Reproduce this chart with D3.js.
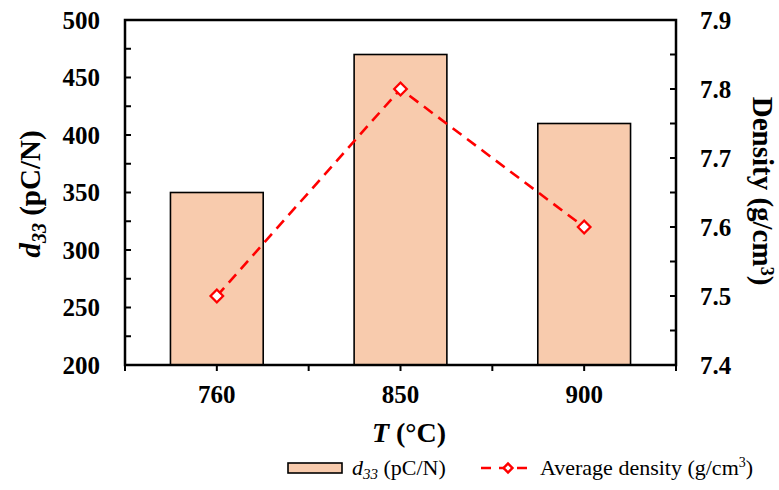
<!DOCTYPE html>
<html>
<head>
<meta charset="utf-8">
<script src="https://cdn.jsdelivr.net/npm/d3@7/dist/d3.min.js"></script>
<style>
  body { margin: 0; background: #fff; }
  svg { display: block; }
</style>
</head>
<body>
<svg id="chart" width="779" height="490"></svg>
<script>
// Sintering temperature (°C)
const categories = ["760", "850", "900"];
// Piezoelectric coefficient d33 (pC/N)
const d33Values = [350, 470, 410];
// Average density (g/cm³)
const densityValues = [7.5, 7.8, 7.6];
// Axis ticks
const leftTicks = [200, 250, 300, 350, 400, 450, 500];
const rightTicks = [7.4, 7.5, 7.6, 7.7, 7.8, 7.9];

const FONT = '"Liberation Serif"';
const svg = d3.select("#chart");
const m = { left: 125, right: 676, top: 20, bottom: 365 };

const x = d3.scaleBand().domain(categories).range([m.left, m.right]).paddingInner(0).paddingOuter(0);
const yL = d3.scaleLinear().domain([200, 500]).range([m.bottom, m.top]);
const yR = d3.scaleLinear().domain([7.4, 7.9]).range([m.bottom, m.top]);

const barW = x.bandwidth() * 0.505;
const barColor = "#F8CBAD";
const red = "#FF0000";

// Bars
svg.append("g").selectAll("rect").data(categories).join("rect")
  .attr("x", (d) => x(d) + x.bandwidth() / 2 - barW / 2)
  .attr("y", (d, i) => yL(d33Values[i]))
  .attr("width", barW)
  .attr("height", (d, i) => yL(200) - yL(d33Values[i]))
  .attr("fill", barColor)
  .attr("stroke", "#000")
  .attr("stroke-width", 1.6);

const styleTicks = (g) => {
  g.select(".domain").remove();
  g.attr("font-family", null).attr("font-size", null);
  g.selectAll("text").style("font-size", "25px").style("font-weight", "bold").attr("fill", "#000");
};

// Left axis (ticks inside the plot)
svg.append("g").attr("transform", `translate(${m.left},0)`)
  .call(d3.axisLeft(yL).tickValues(leftTicks).tickSize(0).tickPadding(25).tickFormat(d3.format("d")))
  .call(styleTicks);
const leftMinor = d3.range(200, 501, 25);
svg.append("g").selectAll("line").data(leftMinor).join("line")
  .attr("x1", m.left).attr("x2", m.left + 6)
  .attr("y1", (d) => yL(d)).attr("y2", (d) => yL(d))
  .attr("stroke", "#000").attr("stroke-width", 2);

// Right axis
svg.append("g").attr("transform", `translate(${m.right},0)`)
  .call(d3.axisRight(yR).tickValues(rightTicks).tickSize(0).tickPadding(24).tickFormat(d3.format(".1f")))
  .call(styleTicks);
const rightMinor = d3.range(0, 11).map((i) => 7.4 + i * 0.05);
svg.append("g").selectAll("line").data(rightMinor).join("line")
  .attr("x1", m.right).attr("x2", m.right - 6)
  .attr("y1", (d) => yR(d)).attr("y2", (d) => yR(d))
  .attr("stroke", "#000").attr("stroke-width", 2);

// Bottom axis: ticks at category centres and boundaries, pointing down
svg.append("g").attr("transform", `translate(0,${m.bottom})`)
  .call(d3.axisBottom(x).tickSize(0).tickPadding(20))
  .call(styleTicks);
const xTickPos = [m.left];
categories.forEach((c) => { xTickPos.push(x(c) + x.bandwidth() / 2); xTickPos.push(x(c) + x.bandwidth()); });
svg.append("g").selectAll("line").data(xTickPos).join("line")
  .attr("x1", (d) => d).attr("x2", (d) => d)
  .attr("y1", m.bottom).attr("y2", m.bottom + 6)
  .attr("stroke", "#000").attr("stroke-width", 2);

// Frame
svg.append("rect").attr("x", m.left).attr("y", m.top)
  .attr("width", m.right - m.left).attr("height", m.bottom - m.top)
  .attr("fill", "none").attr("stroke", "#000").attr("stroke-width", 2.5);

// Density line
const cx = (d) => x(d) + x.bandwidth() / 2;
const line = d3.line().x((d, i) => cx(categories[i])).y((d) => yR(d));
svg.append("path").datum(densityValues).attr("d", line)
  .attr("fill", "none").attr("stroke", red).attr("stroke-width", 2.6)
  .attr("stroke-dasharray", "11,7");

const diamond = d3.symbol().type(d3.symbolSquare).size(80);
svg.append("g").selectAll("path").data(densityValues).join("path")
  .attr("d", diamond)
  .attr("transform", (d, i) => `translate(${cx(categories[i])},${yR(d)}) rotate(45)`)
  .attr("fill", "#fff").attr("stroke", red).attr("stroke-width", 2.2);

// Axis titles
const tL = svg.append("text").attr("transform", "translate(40,194) rotate(-90)")
  .attr("text-anchor", "middle").style("font-size", "29px").style("font-weight", "bold");
tL.append("tspan").style("font-style", "italic").text("d");
tL.append("tspan").style("font-style", "italic").style("font-size", "20px").attr("dy", 6).text("33");
tL.append("tspan").attr("dy", -6).text(" (pC/N)");

const tB = svg.append("text").attr("x", 409).attr("y", 442)
  .attr("text-anchor", "middle").style("font-size", "28px").style("font-weight", "bold");
tB.append("tspan").style("font-style", "italic").text("T");
tB.append("tspan").text(" (°C)");

const tR = svg.append("text").attr("transform", "translate(753,191) rotate(90)")
  .attr("text-anchor", "middle").style("font-size", "29px").style("font-weight", "bold");
tR.append("tspan").text("Density (g/cm");
tR.append("tspan").style("font-size", "18px").attr("dy", -8).text("3");
tR.append("tspan").attr("dy", 8).text(")");

// Legend
const ly = 468;
svg.append("rect").attr("x", 288).attr("y", ly - 5).attr("width", 54).attr("height", 10)
  .attr("fill", barColor).attr("stroke", "#000").attr("stroke-width", 1.6);
const lg1 = svg.append("text").attr("x", 352).attr("y", ly + 7).style("font-size", "22px");
lg1.append("tspan").style("font-style", "italic").text("d");
lg1.append("tspan").style("font-style", "italic").style("font-size", "15px").attr("dy", 4).text("33");
lg1.append("tspan").attr("dy", -4).text(" (pC/N)");

svg.append("line").attr("x1", 481).attr("x2", 535).attr("y1", ly).attr("y2", ly)
  .attr("stroke", red).attr("stroke-width", 2.6).attr("stroke-dasharray", "10,8");
svg.append("path").attr("d", d3.symbol().type(d3.symbolSquare).size(40))
  .attr("transform", `translate(508,${ly}) rotate(45)`)
  .attr("fill", "#fff").attr("stroke", red).attr("stroke-width", 2.4);
const lg2 = svg.append("text").attr("x", 540).attr("y", ly + 7).style("font-size", "22px");
lg2.append("tspan").text("Average density (g/cm");
lg2.append("tspan").style("font-size", "14px").attr("dy", -8).text("3");
lg2.append("tspan").attr("dy", 8).text(")");

// Serif typeface for every label
svg.selectAll("text, tspan").style("font-family", FONT);
</script>
</body>
</html>
